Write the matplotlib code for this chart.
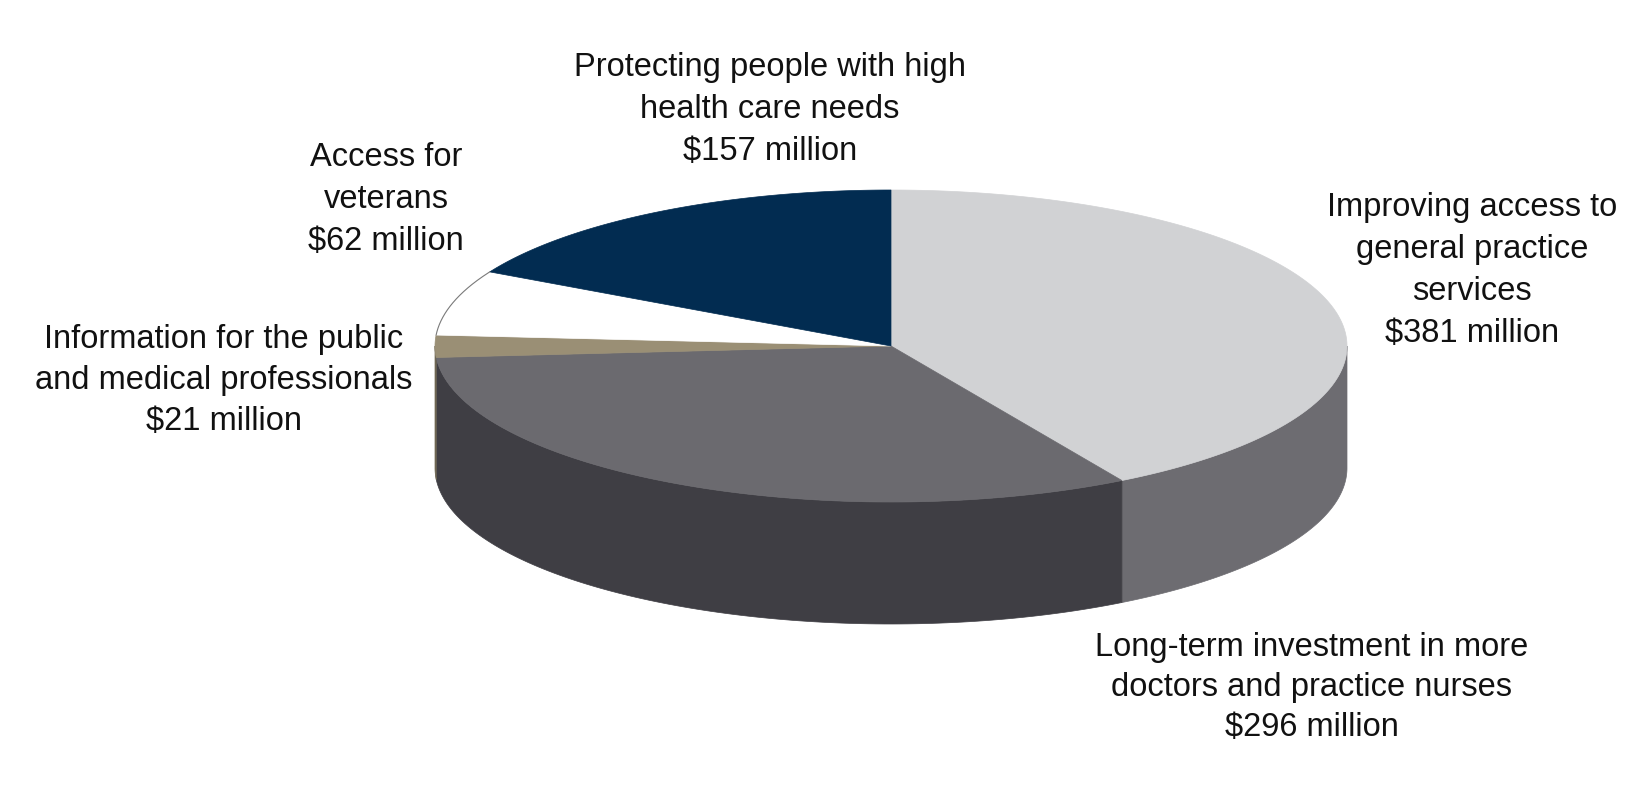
import matplotlib
matplotlib.use("Agg")
import matplotlib.pyplot as plt
from matplotlib.patches import Polygon
import numpy as np

# spending by measure, clockwise from 12 o'clock ($ million)
labels = [
    ["Improving access to", "general practice", "services", "$381 million"],
    ["Long-term investment in more", "doctors and practice nurses", "$296 million"],
    ["Information for the public", "and medical professionals", "$21 million"],
    ["Access for", "veterans", "$62 million"],
    ["Protecting people with high", "health care needs", "$157 million"],
]
values = [381, 296, 21, 62, 157]
top_colors = ["#d1d2d4", "#6b6a6f", "#9a8f75", "#ffffff", "#022c51"]
side_colors = ["#6d6c71", "#3f3e44", "#6e6652", "#bdbdbd", "#011a31"]

# label anchors: centre x, first baseline y, line step (pixels)
label_pos = [(1472, 216, 42), (1312, 656, 40), (224, 348, 41), (386, 166, 42), (770, 76, 42)]

plt.rcParams['font.family'] = ['Liberation Sans', 'DejaVu Sans']

fig = plt.figure(figsize=(16.29, 7.94), dpi=100)
ax = fig.add_axes([0, 0, 1, 1])
ax.set_xlim(0, 1629)
ax.set_ylim(794, 0)
ax.axis('off')

cx, cy = 891, 346
a, b = 456, 156
depth = 122


def ell(t, dy=0):
    t = np.radians(t)
    return np.column_stack([cx + a * np.cos(t), cy - b * np.sin(t) + dy])


total = float(sum(values))
starts = []
ends = []
ang = 90.0
for v in values:
    starts.append(ang)
    ang -= v / total * 360.0
    ends.append(ang)

# sides (front half only)
for s, e, sc in zip(starts, ends, side_colors):
    lo = max(e, -180.0)
    hi = min(s, 0.0)
    if lo < hi:
        t = np.linspace(hi, lo, 120)
        pts = np.vstack([ell(t), ell(t[::-1], depth)])
        ax.add_patch(Polygon(pts, closed=True, facecolor=sc, edgecolor=sc, lw=0.5))

# tops
for s, e, tc in zip(starts, ends, top_colors):
    t = np.linspace(s, e, 200)
    pts = np.vstack([[cx, cy], ell(t)])
    ax.add_patch(Polygon(pts, closed=True, facecolor=tc, edgecolor=tc, lw=0.5))
    if tc == "#ffffff":
        arc = ell(t)
        ax.plot(arc[:, 0], arc[:, 1], color="#7a7a7a", lw=0.8)

for lines, (x, y0, step) in zip(labels, label_pos):
    for i, ln in enumerate(lines):
        ax.text(x, y0 + i * step, ln, ha='center', va='baseline',
                fontsize=23.5, color='#111111')

fig.savefig("out.png", dpi=100)
